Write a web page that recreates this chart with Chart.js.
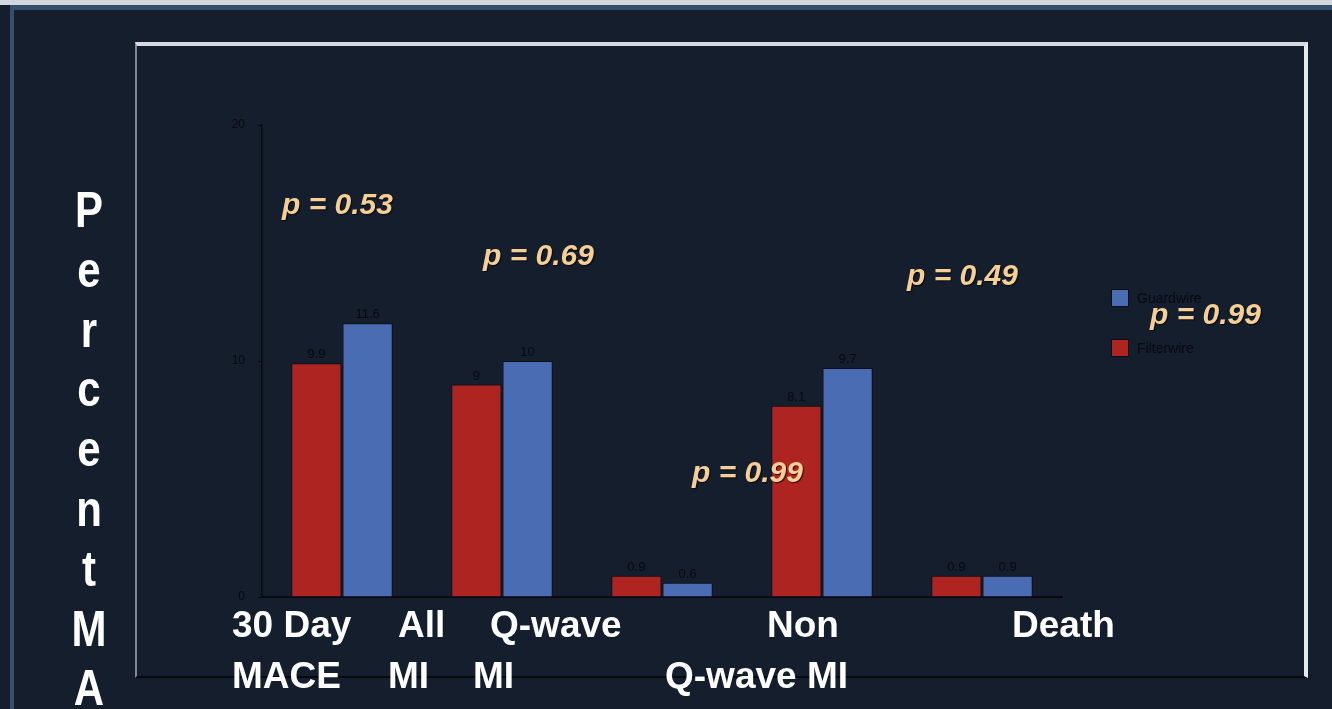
<!DOCTYPE html>
<html>
<head>
<meta charset="utf-8">
<title>MACE by device</title>
<script src="https://cdn.jsdelivr.net/npm/chart.js@4/dist/chart.umd.min.js"></script>
<style>
  html, body { margin: 0; padding: 0; background: #141e2d; overflow: hidden; }
  #stage { position: relative; width: 1332px; height: 709px; }
  #topStrip { position: absolute; left: 0; top: 0; width: 1332px; height: 5px; background: #d3d8de; }
  #slideEdge { position: absolute; left: 10px; top: 5px; right: 0; bottom: 0;
    border-top: 5px solid #34506b; border-left: 4px solid #34506b; }
  #plotFrame { position: absolute; left: 135px; top: 42px; width: 1173px; height: 636px; box-sizing: border-box;
    border-top: 4px solid #d6dbe1; border-left: 2px solid #7f8a99; border-right: 4px solid #e6e9ee;
    border-bottom: 2px solid #06090e; }
  #wrap { position: absolute; left: 0; top: 0; width: 1332px; height: 709px; }
</style>
</head>
<body>
<div id="stage">
  <div id="topStrip"></div>
  <div id="slideEdge"></div>
  <div id="plotFrame"></div>
  <div id="wrap"><canvas id="maceChart"></canvas></div>
</div>
<script>
(function () {
  'use strict';

  const CATEGORIES = ['30 Day MACE', 'All MI', 'Q-wave MI', 'Non Q-wave MI', 'Death'];
  const FILTERWIRE = [9.9, 9, 0.9, 8.1, 0.9];
  const GUARDWIRE = [11.6, 10, 0.6, 9.7, 0.9];
  const Y_TICKS = [0, 10, 20];
  const SERIES_NAMES = ['Filterwire', 'Guardwire'];
  const P_VALUES = ['p = 0.53', 'p = 0.69', 'p = 0.49', 'p = 0.99', 'p = 0.99'];
  const AXIS_TITLE = 'PercentMA';
  const LABEL_ROW1 = ['30 Day', 'All', 'Q-wave', 'Non', 'Death'];
  const LABEL_ROW2 = ['MACE', 'MI', 'MI', 'Q-wave MI'];

  const RED = '#ad2420';
  const BLUE = '#4a6cb2';
  const INK = '#070a10';
  const FONT = "'Liberation Sans', Arial, sans-serif";

  // hand placed text boxes (left x, baseline y)
  const row1X = [232, 398, 490, 767, 1012];
  const row2X = [232, 388, 473, 665];
  const pPos = [[282, 214], [483, 265], [907, 285], [1150, 324], [692, 482]];

  const overlay = {
    id: 'overlay',
    afterDatasetsDraw(chart) {
      const ctx = chart.ctx;
      ctx.save();

      // value labels over each bar
      ctx.font = '13px ' + FONT;
      ctx.fillStyle = INK;
      ctx.textAlign = 'center';
      ctx.textBaseline = 'alphabetic';
      chart.data.datasets.forEach((ds, di) => {
        chart.getDatasetMeta(di).data.forEach((bar, i) => {
          ctx.fillText(String(ds.data[i]), bar.x, bar.y - 5);
        });
      });

      // legend, Guardwire listed first
      const legend = [[SERIES_NAMES[1], BLUE, 289], [SERIES_NAMES[0], RED, 339]];
      ctx.textAlign = 'left';
      ctx.textBaseline = 'middle';
      ctx.font = '14px ' + FONT;
      legend.forEach(([name, color, top]) => {
        ctx.fillStyle = color;
        ctx.fillRect(1111, top, 18, 18);
        ctx.strokeStyle = '#0b0f15';
        ctx.lineWidth = 1;
        ctx.strokeRect(1111.5, top + 0.5, 17, 17);
        ctx.fillStyle = INK;
        ctx.fillText(name, 1137, top + 10);
      });

      // category labels
      ctx.textBaseline = 'alphabetic';
      ctx.fillStyle = '#ffffff';
      ctx.font = 'bold 37px ' + FONT;
      LABEL_ROW1.forEach((t, i) => ctx.fillText(t, row1X[i], 637));
      LABEL_ROW2.forEach((t, i) => ctx.fillText(t, row2X[i], 688));

      // vertical axis title, one letter per line
      ctx.textAlign = 'center';
      ctx.font = 'bold 42px ' + FONT;
      AXIS_TITLE.split('').forEach((ch, i) => {
        ctx.save();
        ctx.translate(89, 227 + 59.8 * i);
        ctx.scale(1, 1.2);
        ctx.fillText(ch, 0, 0);
        ctx.restore();
      });

      // p values
      ctx.textAlign = 'left';
      ctx.font = 'italic bold 30px ' + FONT;
      ctx.shadowColor = 'rgba(0,0,0,0.7)';
      ctx.shadowOffsetX = 1;
      ctx.shadowOffsetY = 1;
      ctx.shadowBlur = 1;
      ctx.fillStyle = '#f6cf96';
      P_VALUES.forEach((t, i) => ctx.fillText(t, pPos[i][0], pPos[i][1]));

      ctx.restore();
    }
  };

  new Chart(document.getElementById('maceChart'), {
    type: 'bar',
    data: {
      labels: CATEGORIES,
      datasets: [
        { label: SERIES_NAMES[0], data: FILTERWIRE, backgroundColor: RED, borderColor: '#0b0f15', borderWidth: 1 },
        { label: SERIES_NAMES[1], data: GUARDWIRE, backgroundColor: BLUE, borderColor: '#0b0f15', borderWidth: 1 }
      ]
    },
    options: {
      responsive: true,
      maintainAspectRatio: false,
      animation: false,
      events: [],
      layout: { padding: { left: 232, right: 270, top: 125, bottom: 112 } },
      datasets: { bar: { categoryPercentage: 0.64, barPercentage: 0.98 } },
      plugins: { legend: { display: false }, tooltip: { enabled: false } },
      scales: {
        x: {
          grid: { display: false },
          border: { color: INK, width: 2 },
          ticks: { display: false },
          afterFit: s => { s.height = 0; }
        },
        y: {
          min: 0,
          max: 20,
          afterBuildTicks: s => { s.ticks = Y_TICKS.map(v => ({ value: v })); },
          grid: { drawOnChartArea: false, tickLength: 4, color: INK },
          border: { color: INK, width: 1.5 },
          ticks: { color: INK, padding: 13, font: { family: FONT, size: 12 } },
          afterFit: s => { s.width = 30; }
        }
      }
    },
    plugins: [overlay]
  });
})();
</script>
</body>
</html>
